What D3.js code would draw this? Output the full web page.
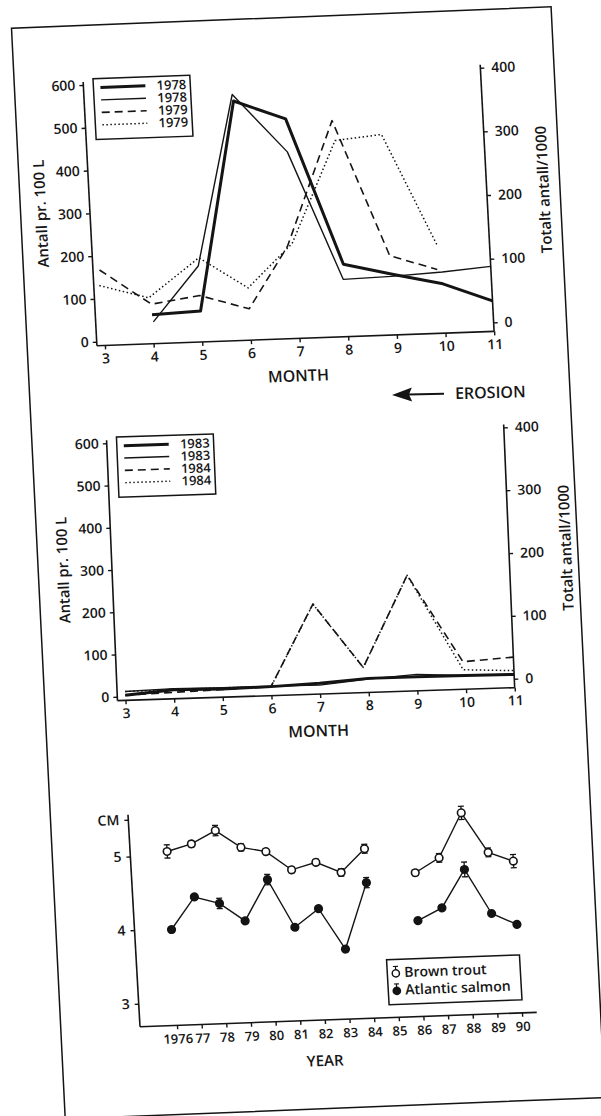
<!DOCTYPE html>
<html lang="no">
<head>
<meta charset="utf-8">
<title>Antall og lengde</title>
<script src="https://cdn.jsdelivr.net/npm/d3@7"></script>
<style>
  body { margin: 0; background: #fff; }
  svg text { font-family: "Open Sans", "Liberation Sans", sans-serif; font-weight: 600; fill: #161616; }
</style>
</head>
<body>
<div id="figur"></div>
<script>

// ---- panel 1: 1978 / 1979 ----
var mnd78tykk = [4.0, 5.0, 5.9, 6.95, 7.98, 9.0, 10.0, 11.0];
var ant78tykk = [58, 63, 550, 504, 160, 132, 106, 62];
var mnd78tynn = [4.02, 5.0, 5.88, 6.95, 7.96, 8.95, 10.0, 11.0];
var tot78tynn = [20, 105, 372, 279, 76, 78, 82, 88];
var mnd79strek = [2.97, 4.0, 5.0, 6.0, 6.85, 7.9, 8.94, 9.9];
var ant79strek = [167, 83, 99, 64, 206, 496, 176, 140];
var mnd79prikk = [2.95, 3.95, 5.02, 6.0, 6.95, 7.94, 8.9, 9.93];
var tot79prikk = [80, 58, 118, 68, 135, 294, 301, 123];

// ---- panel 2: 1983 / 1984 ----
var mnd83 = [3, 4, 5, 6, 7, 8, 9, 10, 11];
var ant83tykk = [3, 12, 10, 12, 16, 24, 24, 23, 22];
var tot83tynn = [0, 2, 1, 1, 0, 7, 12, 8, 7];
var mnd84 = [3, 4, 5, 6, 6.93, 7.91, 8.89, 9.96, 11];
var ant84strek = [3, 6, 9, 12, 204, 50, 265, 56, 63];
var tot84prikk = [0, 0, 1, 0, 129, 26, 170, 17, 13];

var maaneder = [3, 4, 5, 6, 7, 8, 9, 10, 11];
var venstreTicks = [0, 100, 200, 300, 400, 500, 600];
var hoyreTicks = [0, 100, 200, 300, 400];

// ---- panel 3: lengde ----
var aar = [1976, 1977, 1978, 1979, 1980, 1981, 1982, 1983, 1984, 1985, 1986, 1987, 1988, 1989, 1990];
var orret = [5.05, 5.14, 5.31, 5.07, 5.00, 4.74, 4.83, 4.68, 4.99, null, 4.64, 4.83, 5.43, 4.88, 4.75];
var orretSd = [0.09, 0.04, 0.07, 0.05, 0.04, 0.04, 0.04, 0.05, 0.06, null, 0.04, 0.06, 0.09, 0.06, 0.09];
var laks = [3.99, 4.42, 4.32, 4.07, 4.62, 3.96, 4.20, 3.64, 4.53, null, 3.99, 4.15, 4.66, 4.05, 3.89];
var laksSd = [0.02, 0.02, 0.07, 0.02, 0.07, 0.02, 0.02, 0.02, 0.07, null, 0.02, 0.02, 0.10, 0.02, 0.02];
var cmTicks = [3, 4, 5, 5.5];

var stiler = {
  tykk: { w: 3, dash: null },
  tynn: { w: 1.4, dash: null },
  strek: { w: 1.6, dash: "8,5" },
  prikk: { w: 1.5, dash: "1.5,2.5" }
};
var blekk = "#141414";
var fonter = "'Open Sans', 'Liberation Sans', sans-serif";

var svg = d3.select("#figur").append("svg")
  .attr("width", 601)
  .attr("height", 1116);

svg.append("rect").attr("width", 601).attr("height", 1116).attr("fill", "#fff");

// ytre ramme (skannet side, litt skjev)
svg.append("g")
  .attr("transform", "matrix(0.9992,-0.0398,0.0492,0.9988,11.5,28.3)")
  .append("rect")
  .attr("width", 540).attr("height", 1092)
  .attr("fill", "none").attr("stroke", blekk).attr("stroke-width", 1.5);

function pyntAkse(a, str) {
  a.attr("font-family", fonter).attr("font-size", str);
  a.select(".domain").remove();
  a.selectAll(".tick line").attr("stroke", blekk).attr("stroke-width", 1.4);
  a.selectAll(".tick text").attr("fill", blekk);
}

function maanedsPanel(matrise, serier) {
  var g = svg.append("g").attr("transform", "matrix(" + matrise.join(",") + ")");

  var x = d3.scaleLinear().domain([3, 11]).range([8, 398]);
  var yV = d3.scaleLinear().domain([0, 600]).range([0, -257]);
  var yH = d3.scaleLinear().domain([0, 400]).range([-5, -260]);

  // akselinjer
  g.append("line").attr("x1", 0).attr("x2", x(11)).attr("y1", 4).attr("y2", 4);
  g.append("line").attr("x1", 0).attr("x2", 0).attr("y1", yV(600) - 3).attr("y2", 4);
  g.append("line").attr("x1", x(11)).attr("x2", x(11)).attr("y1", yH(400) - 3).attr("y2", 4);
  g.selectAll("line").attr("stroke", blekk).attr("stroke-width", 1.6);

  var ax = g.append("g").attr("transform", "translate(0,4)")
    .call(d3.axisBottom(x).tickValues(maaneder).tickSize(4).tickPadding(4).tickFormat(d3.format("d")));
  pyntAkse(ax, 14);
  var ay = g.append("g")
    .call(d3.axisLeft(yV).tickValues(venstreTicks).tickSize(4).tickPadding(4));
  pyntAkse(ay, 14);
  var ah = g.append("g").attr("transform", "translate(" + x(11) + ",0)")
    .call(d3.axisRight(yH).tickValues(hoyreTicks).tickSize(4).tickPadding(7));
  pyntAkse(ah, 14);

  g.append("text")
    .attr("transform", "translate(-49,-130) rotate(-90)")
    .attr("text-anchor", "middle").attr("dy", "0.35em")
    .attr("font-size", 15)
    .text("Antall pr. 100 L");
  g.append("text")
    .attr("transform", "translate(455,-136) rotate(-90)")
    .attr("text-anchor", "middle").attr("dy", "0.35em")
    .attr("font-size", 15)
    .text("Totalt antall/1000");
  g.append("text")
    .attr("x", 200).attr("y", 47)
    .attr("text-anchor", "middle")
    .attr("font-size", 16)
    .text("MONTH");

  serier.forEach(function(s) {
    var y = s.akse === "v" ? yV : yH;
    var linje = d3.line()
      .x(function(d) { return x(d[0]); })
      .y(function(d) { return y(d[1]); });
    g.append("path")
      .datum(d3.zip(s.mnd, s.verdi))
      .attr("d", linje)
      .attr("fill", "none")
      .attr("stroke", blekk)
      .attr("stroke-width", stiler[s.stil].w)
      .attr("stroke-dasharray", stiler[s.stil].dash)
      .attr("stroke-linejoin", "round");
  });

  // tegnforklaring
  var leg = g.append("g").attr("transform", "translate(10,-263)");
  leg.append("rect")
    .attr("width", 97).attr("height", 61)
    .attr("fill", "#fff").attr("stroke", blekk).attr("stroke-width", 1.5);
  serier.forEach(function(s, i) {
    var yy = 9 + i * 12.5;
    leg.append("line")
      .attr("x1", 7).attr("x2", 52).attr("y1", yy).attr("y2", yy)
      .attr("stroke", blekk)
      .attr("stroke-width", stiler[s.stil].w)
      .attr("stroke-dasharray", stiler[s.stil].dash);
    leg.append("text")
      .attr("x", 93).attr("y", yy).attr("dy", "0.36em")
      .attr("text-anchor", "end")
      .attr("font-size", 13)
      .text(s.navn);
  });
}

maanedsPanel([0.998, -0.0359, 0.0521, 0.9988, 96.7, 341.7], [
  { navn: "1978", mnd: mnd78tykk, verdi: ant78tykk, akse: "v", stil: "tykk" },
  { navn: "1978", mnd: mnd78tynn, verdi: tot78tynn, akse: "h", stil: "tynn" },
  { navn: "1979", mnd: mnd79strek, verdi: ant79strek, akse: "v", stil: "strek" },
  { navn: "1979", mnd: mnd79prikk, verdi: tot79prikk, akse: "h", stil: "prikk" }
]);

maanedsPanel([0.998, -0.0326, 0.0412, 0.986, 117.3, 696.7], [
  { navn: "1983", mnd: mnd83, verdi: ant83tykk, akse: "v", stil: "tykk" },
  { navn: "1983", mnd: mnd83, verdi: tot83tynn, akse: "h", stil: "tynn" },
  { navn: "1984", mnd: mnd84, verdi: ant84strek, akse: "v", stil: "strek" },
  { navn: "1984", mnd: mnd84, verdi: tot84prikk, akse: "h", stil: "prikk" }
]);

// EROSION-pil
var pil = svg.append("g").attr("transform", "translate(392,395) rotate(-1.5)");
pil.append("path").attr("d", "M0,0 L20,-7 L17,0 L20,7 Z").attr("fill", blekk);
pil.append("line").attr("x1", 16).attr("x2", 52).attr("y1", 0).attr("y2", 0)
  .attr("stroke", blekk).attr("stroke-width", 2);
pil.append("text").attr("x", 63).attr("y", 0).attr("dy", "0.36em")
  .attr("font-size", 16).text("EROSION");

// ---- panel 3 ----
var g3 = svg.append("g").attr("transform", "matrix(0.9993,-0.0362,0.0565,0.9986,140,1026.7)");
var x3 = d3.scaleLinear().domain([1974.5, 1990.6]).range([0, 397]);
var y3 = d3.scaleLinear().domain([3, 5.5]).range([-23, -207.3]);

g3.append("line").attr("x1", 0).attr("x2", 397).attr("y1", 0).attr("y2", 0);
g3.append("line").attr("x1", 0).attr("x2", 0).attr("y1", y3(5.5) - 5).attr("y2", 0);
g3.selectAll("line").attr("stroke", blekk).attr("stroke-width", 1.6);

var ax3 = g3.append("g")
  .call(d3.axisBottom(x3).tickValues(aar).tickSize(4).tickPadding(5)
    .tickFormat(function(d) { return d === 1976 ? "1976" : String(d).slice(2); }));
pyntAkse(ax3, 13);
var ay3 = g3.append("g")
  .call(d3.axisLeft(y3).tickValues(cmTicks).tickSize(4).tickPadding(5)
    .tickFormat(function(d) { return d === 5.5 ? "CM" : d; }));
pyntAkse(ay3, 14);

g3.append("text").attr("x", 183).attr("y", 46)
  .attr("text-anchor", "middle").attr("font-size", 15).text("YEAR");

function artSerie(verdi, sd, aapen) {
  var punkt = aar.map(function(a, i) { return [a, verdi[i], sd[i]]; });
  var linje = d3.line()
    .defined(function(d) { return d[1] != null; })
    .x(function(d) { return x3(d[0]); })
    .y(function(d) { return y3(d[1]); });
  g3.append("path").datum(punkt).attr("d", linje)
    .attr("fill", "none").attr("stroke", blekk).attr("stroke-width", 1.4);

  var gyldig = punkt.filter(function(d) { return d[1] != null; });
  var feil = g3.append("g").attr("stroke", blekk).attr("stroke-width", 1.3);
  gyldig.forEach(function(d) {
    var xx = x3(d[0]);
    var y1 = y3(d[1] - d[2]), y2 = y3(d[1] + d[2]);
    feil.append("line").attr("x1", xx).attr("x2", xx).attr("y1", y1).attr("y2", y2);
    feil.append("line").attr("x1", xx - 3).attr("x2", xx + 3).attr("y1", y1).attr("y2", y1);
    feil.append("line").attr("x1", xx - 3).attr("x2", xx + 3).attr("y1", y2).attr("y2", y2);
  });

  g3.append("g").selectAll("circle")
    .data(gyldig)
    .enter()
    .append("circle")
    .attr("cx", function(d) { return x3(d[0]); })
    .attr("cy", function(d) { return y3(d[1]); })
    .attr("r", 3.8)
    .attr("fill", aapen ? "#fff" : blekk)
    .attr("stroke", blekk)
    .attr("stroke-width", 1.6);
}

artSerie(orret, orretSd, true);
artSerie(laks, laksSd, false);

var leg3 = g3.append("g").attr("transform", "translate(250,-58)");
leg3.append("rect").attr("width", 133).attr("height", 45)
  .attr("fill", "#fff").attr("stroke", blekk).attr("stroke-width", 1.5);
[["Brown trout", true], ["Atlantic salmon", false]].forEach(function(r, i) {
  var yy = 13 + i * 17.5;
  leg3.append("line").attr("x1", 8.5).attr("x2", 8.5).attr("y1", yy - 6).attr("y2", yy)
    .attr("stroke", blekk).attr("stroke-width", 1.2);
  leg3.append("line").attr("x1", 6).attr("x2", 11).attr("y1", yy - 6).attr("y2", yy - 6)
    .attr("stroke", blekk).attr("stroke-width", 1.2);
  leg3.append("circle").attr("cx", 8.5).attr("cy", yy + 1).attr("r", 3.6)
    .attr("fill", r[1] ? "#fff" : blekk).attr("stroke", blekk).attr("stroke-width", 1.5);
  leg3.append("text").attr("x", 17).attr("y", yy).attr("dy", "0.36em")
    .attr("font-size", 14).text(r[0]);
});

</script>
</body>
</html>
